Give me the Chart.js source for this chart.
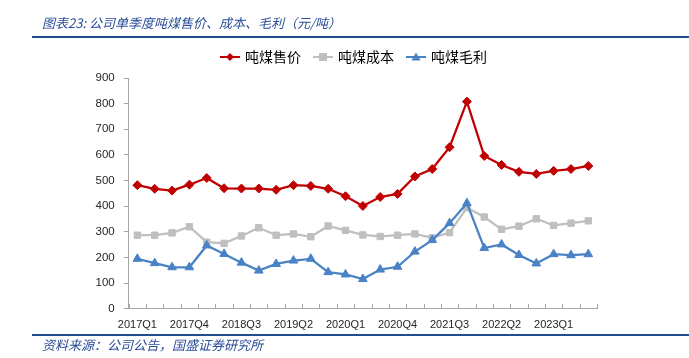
<!DOCTYPE html>
<html>
<head>
<meta charset="utf-8">
<script src="https://cdn.jsdelivr.net/npm/chart.js@4/dist/chart.umd.min.js"></script>
<style>
    body { margin: 0; background: #fff; }
    #wrap { position: relative; width: 689px; height: 358px; overflow: hidden; }
    #chart { position: absolute; left: 0; top: 0; }
    .cap { position: absolute; left: 42px; font-family: "Noto Sans CJK SC", sans-serif; font-style: italic; color: #2a4d98; white-space: nowrap; }
    .rule { position: absolute; left: 32px; right: 0; height: 2px; background: #1f4e8c; }
</style>
</head>
<body>
<div id="wrap">
    <canvas id="chart" width="689" height="358"></canvas>
    <div class="cap" style="top:13px;font-size:13px;">图表23:&nbsp;公司单季度吨煤售价、成本、毛利（元/吨）</div>
    <div class="rule" style="top:36px;"></div>
    <div class="rule" style="top:334px;"></div>
    <div class="cap" style="top:335px;font-size:13px;">资料来源：公司公告，国盛证券研究所</div>
</div>
<script>
const quarters = [
    '2017Q1', '2017Q2', '2017Q3', '2017Q4',
    '2018Q1', '2018Q2', '2018Q3', '2018Q4',
    '2019Q1', '2019Q2', '2019Q3', '2019Q4',
    '2020Q1', '2020Q2', '2020Q3', '2020Q4',
    '2021Q1', '2021Q2', '2021Q3', '2021Q4',
    '2022Q1', '2022Q2', '2022Q3', '2022Q4',
    '2023Q1', '2023Q2', '2023Q3'
];
const priceValues = [482, 468, 461, 484, 510, 470, 469, 469, 464, 482, 479, 468, 439, 401,
    436, 448, 516, 545, 630, 808, 596, 561, 534, 526, 538, 545, 557];
const costValues = [287, 287, 296, 320, 260, 255, 284, 316, 287, 292, 281, 323, 306, 288,
    282, 287, 292, 277, 297, 394, 358, 310, 322, 351, 325, 334, 343];
const profitValues = [195, 178, 162, 162, 247, 214, 180, 149, 175, 188, 195, 143, 134, 116,
    153, 164, 223, 268, 334, 412, 237, 251, 210, 177, 213, 209, 213];
const seriesNames = ['吨煤售价', '吨煤成本', '吨煤毛利'];

const RED = '#c00000';
const GREY = '#bfbfbf';
const BLUE = '#4a82c6';
const AXIS = '#a6a6a6';

// small line + marker picture for the legend, like the excel one
function legendIcon(color, shape) {
    const c = document.createElement('canvas');
    c.width = 20;
    c.height = 12;
    const g = c.getContext('2d');
    g.strokeStyle = color;
    g.lineWidth = 2;
    g.beginPath();
    g.moveTo(0, 6);
    g.lineTo(20, 6);
    g.stroke();
    g.fillStyle = color;
    g.beginPath();
    if (shape === 'rectRot') {
        g.moveTo(10, 2); g.lineTo(14, 6); g.lineTo(10, 10); g.lineTo(6, 6);
    } else if (shape === 'rect') {
        g.rect(6, 2, 8, 8);
    } else {
        g.moveTo(10, 1.5); g.lineTo(14.5, 9.5); g.lineTo(5.5, 9.5);
    }
    g.closePath();
    g.fill();
    return c;
}

const innerTicks = {
    id: 'innerTicks',
    afterLayout(chart) {
        // legend in the reference sits a bit right of the plot centre, and higher
        chart.legend.left += 16;
        chart.legend.right += 16;
        chart.legend.top -= 4;
        chart.legend.bottom -= 4;
    },
    afterDraw(chart) {
        const xs = chart.scales.x;
        const n = quarters.length;
        const ctx = chart.ctx;
        ctx.save();
        ctx.strokeStyle = AXIS;
        ctx.lineWidth = 1;
        ctx.beginPath();
        for (let i = 0; i <= n; i++) {
            const x = Math.round(xs.left + i * xs.width / n) + 0.5;
            ctx.moveTo(x, xs.top);
            ctx.lineTo(x, xs.top - 5);
        }
        ctx.stroke();
        ctx.restore();
    }
};

const ctx = document.getElementById('chart').getContext('2d');
const styles = [
    { color: RED, shape: 'rectRot', radius: 4.5 },
    { color: GREY, shape: 'rect', radius: 4.5 },
    { color: BLUE, shape: 'triangle', radius: 5 }
];
const allValues = [priceValues, costValues, profitValues];

new Chart(ctx, {
    type: 'line',
    data: {
        labels: quarters,
        datasets: allValues.map((vals, i) => ({
            label: seriesNames[i],
            data: vals,
            borderColor: styles[i].color,
            backgroundColor: styles[i].color,
            borderWidth: 2.25,
            pointStyle: styles[i].shape,
            pointRadius: styles[i].radius,
            pointBorderWidth: 1,
            pointHoverRadius: styles[i].radius,
            tension: 0,
            fill: false
        })).reverse()
    },
    options: {
        responsive: false,
        animation: false,
        events: [],
        layout: { padding: { left: 80, right: 92, top: 40, bottom: 24 } },
        plugins: {
            tooltip: { enabled: false },
            legend: {
                position: 'top',
                labels: {
                    usePointStyle: true,
                    pointStyleWidth: 16,
                    padding: 14,
                    color: '#262626',
                    font: { family: '"Noto Sans CJK SC", sans-serif', size: 14 },
                    generateLabels(chart) {
                        return seriesNames.map((name, i) => ({
                            text: name,
                            pointStyle: legendIcon(styles[i].color, styles[i].shape),
                            fillStyle: styles[i].color,
                            strokeStyle: styles[i].color,
                            lineWidth: 0,
                            hidden: false,
                            datasetIndex: 2 - i
                        }));
                    }
                }
            }
        },
        scales: {
            x: {
                offset: true,
                grid: { display: false, offset: true },
                border: { color: AXIS, width: 1 },
                ticks: {
                    autoSkip: false,
                    maxRotation: 0,
                    padding: 2,
                    color: '#262626',
                    font: { family: '"Liberation Sans", Arial, sans-serif', size: 11 },
                    callback: (v, i) => (i % 3 === 0 ? quarters[i] : '')
                }
            },
            y: {
                min: 0,
                max: 900,
                afterFit(scale) { scale.width = 48.7; },
                ticks: {
                    stepSize: 100,
                    padding: 9,
                    color: '#262626',
                    font: { family: '"Liberation Sans", Arial, sans-serif', size: 11.5 }
                },
                grid: { drawOnChartArea: false, drawTicks: true, tickLength: 5, color: AXIS },
                border: { color: AXIS, width: 1 }
            }
        }
    },
    plugins: [innerTicks]
});
</script>
</body>
</html>
